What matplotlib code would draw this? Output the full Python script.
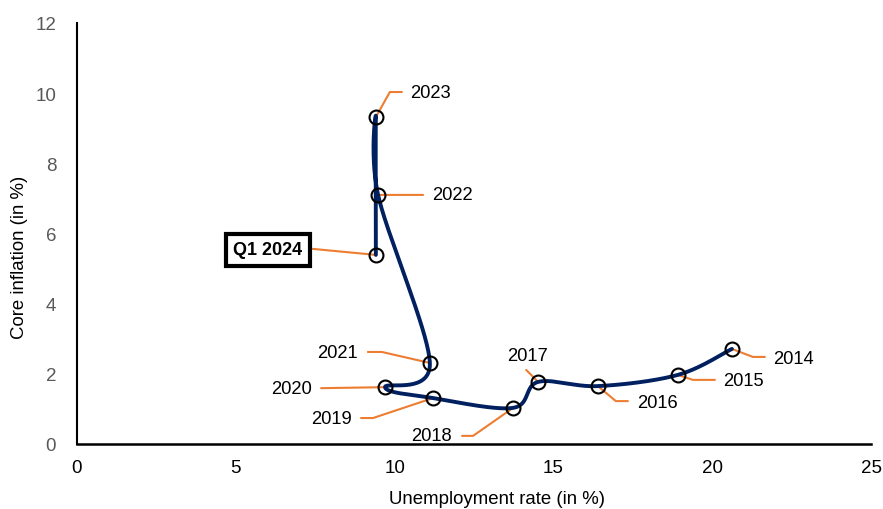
import numpy as np
import matplotlib
matplotlib.use('Agg')
import matplotlib.pyplot as plt

# ---- data ----
labels = ['2014', '2015', '2016', '2017', '2018', '2019', '2020', '2021', '2022', '2023', 'Q1 2024']
unemployment = [20.62, 18.92, 16.40, 14.52, 13.73, 11.21, 9.70, 11.11, 9.48, 9.41, 9.41]
inflation = [2.71, 1.97, 1.65, 1.77, 1.03, 1.31, 1.62, 2.31, 7.10, 9.32, 5.39]
x_ticks = [0, 5, 10, 15, 20, 25]
y_ticks = [0, 2, 4, 6, 8, 10, 12]

NAVY = '#002060'
ORANGE = '#ED7D31'

plt.rcParams['font.family'] = ['Liberation Sans', 'DejaVu Sans']

fig = plt.figure(figsize=(8.83, 5.10), dpi=100)
ax = fig.add_axes([77 / 883, 65 / 510, 794 / 883, 421 / 510])
ax.set_xlim(0, 25)
ax.set_ylim(0, 12)
ax.set_xticks(x_ticks)
ax.set_yticks(y_ticks)
ax.tick_params(axis='both', length=0, labelsize=13.5)
ax.tick_params(axis='x', pad=11, labelcolor='black')
ax.tick_params(axis='y', pad=15, labelcolor='#595959')
for s in ['top', 'right']:
    ax.spines[s].set_visible(False)
ax.spines['left'].set_linewidth(1.5)
ax.spines['bottom'].set_linewidth(1.8)
ax.set_xlabel('Unemployment rate (in %)', fontsize=13.4)
ax.set_ylabel('Core inflation (in %)', fontsize=13.4)
ax.xaxis.set_label_coords(0.529, -0.1306)
ax.xaxis.label.set_va('center')
ax.yaxis.set_label_coords(-0.0718, 0.4466)
ax.yaxis.label.set_va('center')
ax.yaxis.label.set_ha('center')

# ---- smoothed line (Catmull-Rom in display space, like Excel smoothing) ----
pts = ax.transData.transform(np.column_stack([unemployment, inflation]))
P = np.vstack([pts[0], pts, pts[-1]])
t = np.linspace(0, 1, 40)[:, None]
curve = []
for i in range(len(pts) - 1):
    p0, p1, p2, p3 = P[i], P[i + 1], P[i + 2], P[i + 3]
    c1 = p1 + (p2 - p0) / 6
    c2 = p2 - (p3 - p1) / 6
    seg = ((1 - t) ** 3) * p1 + 3 * ((1 - t) ** 2) * t * c1 + 3 * (1 - t) * t ** 2 * c2 + t ** 3 * p2
    curve.append(seg)
curve = ax.transData.inverted().transform(np.vstack(curve))
ax.plot(curve[:, 0], curve[:, 1], color=NAVY, lw=2.8, solid_capstyle='round', zorder=2)
ax.plot(unemployment, inflation, ls='none', marker='o', ms=10, mfc='none', mec='black', mew=1.5, zorder=3)

# ---- labels with leader lines (offsets in pixels, y up) ----
px = 0.72  # points per pixel at 100 dpi
label_layout = {
    '2014': ((21, -8), (33, -8), (41, -10), 'left'),
    '2015': ((15, -5), (37, -5), (45, -6), 'left'),
    '2016': ((18, -15), (30, -15), (39, -16), 'left'),
    '2017': (None, (-12, 12), (-11, 26), 'center'),
    '2018': ((-40, -28), (-51, -28), (-61, -28), 'right'),
    '2019': ((-60, -20), (-72, -20), (-81, -20), 'right'),
    '2020': (None, (-64, -1), (-73, -1), 'right'),
    '2021': ((-48, 11), (-62, 11), (-72, 10), 'right'),
    '2022': (None, (45, 0), (54, 0), 'left'),
    '2023': ((14, 25), (26, 25), (34, 25), 'left'),
    'Q1 2024': (None, (-63, 6), (-108, 5), 'center'),
}
for lab, xv, yv in zip(labels, unemployment, inflation):
    elbow, end, txt, ha = label_layout[lab]
    if elbow is None:
        cs = 'arc3,rad=0'
    else:
        ang = np.degrees(np.arctan2(elbow[1], elbow[0]))
        cs = f'angle,angleA=0,angleB={ang},rad=0'
    ax.annotate('', xy=(xv, yv), xytext=(end[0] * px, end[1] * px), textcoords='offset points',
                arrowprops=dict(arrowstyle='-', color=ORANGE, lw=1.5, shrinkA=0, shrinkB=0,
                                connectionstyle=cs), zorder=1)
    if lab == 'Q1 2024':
        ax.annotate(lab, xy=(xv, yv), xytext=(txt[0] * px, txt[1] * px), textcoords='offset points',
                    ha='center', va='center', fontsize=13, fontweight='bold',
                    bbox=dict(boxstyle='square,pad=0.42', fc='white', ec='black', lw=3), zorder=4)
    else:
        ax.annotate(lab, xy=(xv, yv), xytext=(txt[0] * px, txt[1] * px), textcoords='offset points',
                    ha=ha, va='center', fontsize=13.2, zorder=4)

fig.savefig('out.png', dpi=100)
